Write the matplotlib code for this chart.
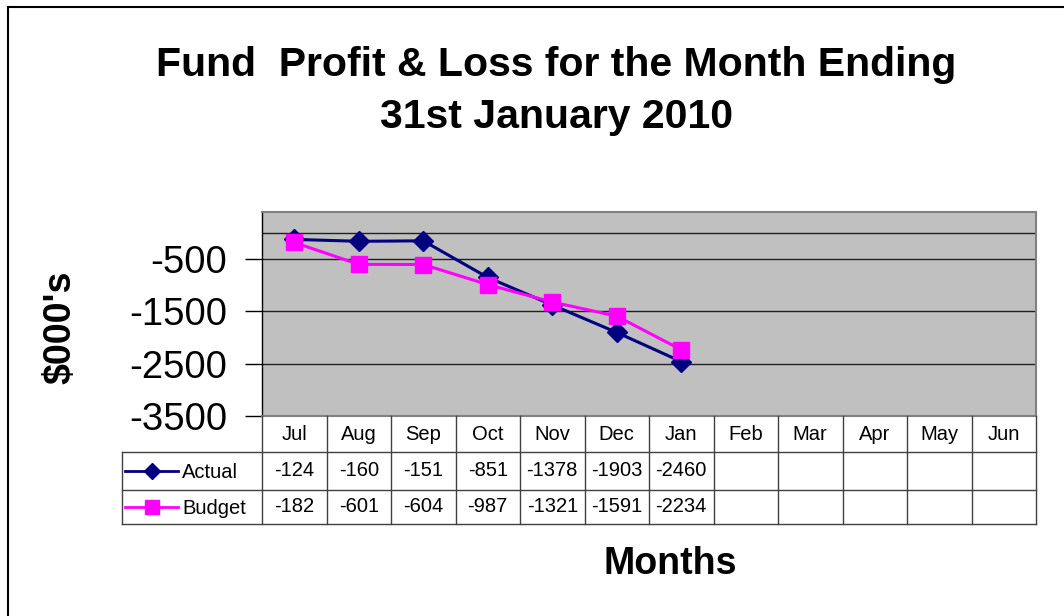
"""
Fund P&L line chart with an Excel-style data table underneath.
Renders out.png (1064x616).
"""

import matplotlib

matplotlib.use("Agg")
import matplotlib.pyplot as plt
from matplotlib.lines import Line2D

plt.rcParams["font.family"] = ["Liberation Sans", "DejaVu Sans"]

MONTHS = ["Jul", "Aug", "Sep", "Oct", "Nov", "Dec", "Jan",
          "Feb", "Mar", "Apr", "May", "Jun"]
ACTUAL = [-124, -160, -151, -851, -1378, -1903, -2460]
BUDGET = [-182, -601, -604, -987, -1321, -1591, -2234]
Y_TICKS = [-500, -1500, -2500, -3500]

NAVY = "#000080"
MAGENTA = "#ff00ff"
PLOT_BG = "#c0c0c0"
EDGE = "#404040"

W, H = 1064, 616


def fx(px):
    return px / W


def fy(py):
    return 1 - py / H


def main():
    fig = plt.figure(figsize=(W / 100, H / 100), dpi=100)

    # chart area border (only left and top edges are in frame)
    fig.add_artist(Line2D([fx(8), fx(8)], [fy(7), 0], color="black", lw=1.5))
    fig.add_artist(Line2D([fx(8), 1], [fy(7), fy(7)], color="black", lw=1.5))

    left, right, top, bottom = 262, 1036, 212, 416
    ax = fig.add_axes([fx(left), fy(bottom), fx(right - left), (bottom - top) / H])
    ax.set_facecolor(PLOT_BG)
    n = len(MONTHS)
    ax.set_xlim(-0.5, n - 0.5)
    ax.set_ylim(-3500, 400)

    for v in Y_TICKS[:-1]:
        ax.axhline(v, color="#202020", lw=1, zorder=1)
    ax.axhline(0, color="#202020", lw=1, zorder=1)

    x = range(len(ACTUAL))
    ax.plot(x, ACTUAL, color=NAVY, lw=2.2, marker="D", ms=10, zorder=3)
    ax.plot(range(len(BUDGET)), BUDGET, color=MAGENTA, lw=2.2, marker="s",
            ms=12, zorder=4)

    ax.set_xticks([])
    ax.set_yticks(Y_TICKS)
    ax.set_yticklabels([str(v) for v in Y_TICKS], fontsize=27.5)
    ax.tick_params(axis="y", length=12, width=1, color="black", pad=13)
    for s in ax.spines.values():
        s.set_color("#808080")
        s.set_linewidth(1.5)
    ax.spines["left"].set_color("black")
    ax.spines["left"].set_linewidth(1)

    # data table below the plot
    tleft, tbot = 122, 524
    col_w = (right - left) / n
    leg_units = (left - tleft) / col_w
    tab = fig.add_axes([fx(tleft), fy(tbot), fx(right - tleft), (tbot - bottom) / H])
    tab.set_xlim(-0.5 - leg_units, n - 0.5)
    row_edges = [0, 36, 74, 108]  # px from top of the table
    tab.set_ylim(row_edges[-1], 0)
    tab.axis("off")

    x0 = -0.5 - leg_units
    for i in range(n + 1):
        tab.plot([i - 0.5, i - 0.5], [0, row_edges[-1]], color=EDGE, lw=1,
                 clip_on=False)
    tab.plot([x0, x0], [row_edges[1], row_edges[-1]], color=EDGE, lw=1,
             clip_on=False)
    for r in row_edges[1:]:
        tab.plot([x0, n - 0.5], [r, r], color=EDGE, lw=1, clip_on=False)

    fs = 14.5
    for i, m in enumerate(MONTHS):
        tab.text(i, (row_edges[0] + row_edges[1]) / 2, m, ha="center",
                 va="center", fontsize=fs)
    series = [("Actual", ACTUAL, NAVY, "D", 8), ("Budget", BUDGET, MAGENTA, "s", 10)]
    for k, (name, vals, color, mk, ms) in enumerate(series):
        yc = (row_edges[k + 1] + row_edges[k + 2]) / 2
        for i, v in enumerate(vals):
            tab.text(i, yc, str(v), ha="center", va="center", fontsize=fs)
        lx0 = x0 + 3 / col_w
        lx1 = x0 + 56 / col_w
        tab.plot([lx0, lx1], [yc, yc], color=color, lw=2)
        tab.plot([(lx0 + lx1) / 2], [yc], color=color, marker=mk, ms=ms)
        tab.text(x0 + 60 / col_w, yc + 1, name, ha="left", va="center",
                 fontsize=fs)

    title_kw = dict(ha="center", va="baseline", fontsize=29.5, fontweight="bold")
    fig.text(fx(556), fy(76), "Fund  Profit & Loss for the Month Ending", **title_kw)
    fig.text(fx(556), fy(128), "31st January 2010", **title_kw)
    fig.text(fx(60), fy(327), "$000's", rotation=90, ha="center", va="center",
             fontsize=27, fontweight="bold")
    fig.text(fx(670), fy(564), "Months", ha="center", va="center",
             fontsize=27, fontweight="bold")

    fig.savefig("out.png", dpi=100)


if __name__ == "__main__":
    main()
